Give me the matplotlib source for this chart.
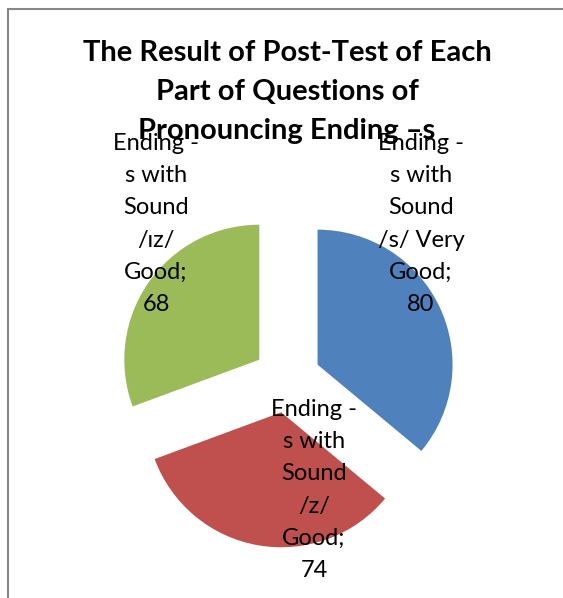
import matplotlib
matplotlib.use("Agg")
import matplotlib.pyplot as plt
from matplotlib.patches import Rectangle

# ============================================================
# Data
# ============================================================
labels = [
    "Ending -\ns with\nSound\n/s/ Very\nGood;\n80",
    "Ending -\ns with\nSound\n/z/\nGood;\n74",
    "Ending -\ns with\nSound\n/\u026az/\nGood;\n68",
]
values = [80, 74, 68]
colors = ["#4F81BD", "#C0504D", "#9BBB59"]
title = "The Result of Post-Test of Each\nPart of Questions of\nPronouncing Ending \u2013s"

# label centres in figure pixels (x, y from top)
label_pos = [(421, 224), (314, 490), (156, 224)]

W, H = 563, 598
fig = plt.figure(figsize=(W / 100, H / 100), dpi=100)
fig.patch.set_facecolor("white")

# outer chart border (only left/top visible)
fig.patches.append(Rectangle((8 / W, -0.1), 1.2, 1 - 9 / H + 0.1,
                             transform=fig.transFigure, fill=False,
                             edgecolor="#878787", linewidth=1.5))

ax = fig.add_axes([0, 0, 1, 1])
ax.pie(values, colors=colors, startangle=90, counterclock=False,
       explode=[0.25] * len(values), radius=1,
       wedgeprops=dict(linewidth=0))

# pie radius = 135 px, centre at (287, 379) px
r_px = 135
cx, cy = 287, 379
ax.set_aspect("equal", adjustable="datalim")
ax.set_xlim(-cx / r_px, (W - cx) / r_px)
ax.set_ylim(-(H - cy) / r_px, cy / r_px)
ax.axis("off")

fam = ["Lato", "DejaVu Sans"]
for txt, (px, py) in zip(labels, label_pos):
    fig.text(px / W, 1 - py / H, txt, ha="center", va="center",
             fontsize=17, family=fam, linespacing=1.67, color="black")

fig.text(287 / W, 1 - 92 / H, title, ha="center", va="center",
         fontsize=21, fontweight="bold", family=fam, linespacing=1.62)

plt.savefig("out.png", dpi=100)
plt.close()
